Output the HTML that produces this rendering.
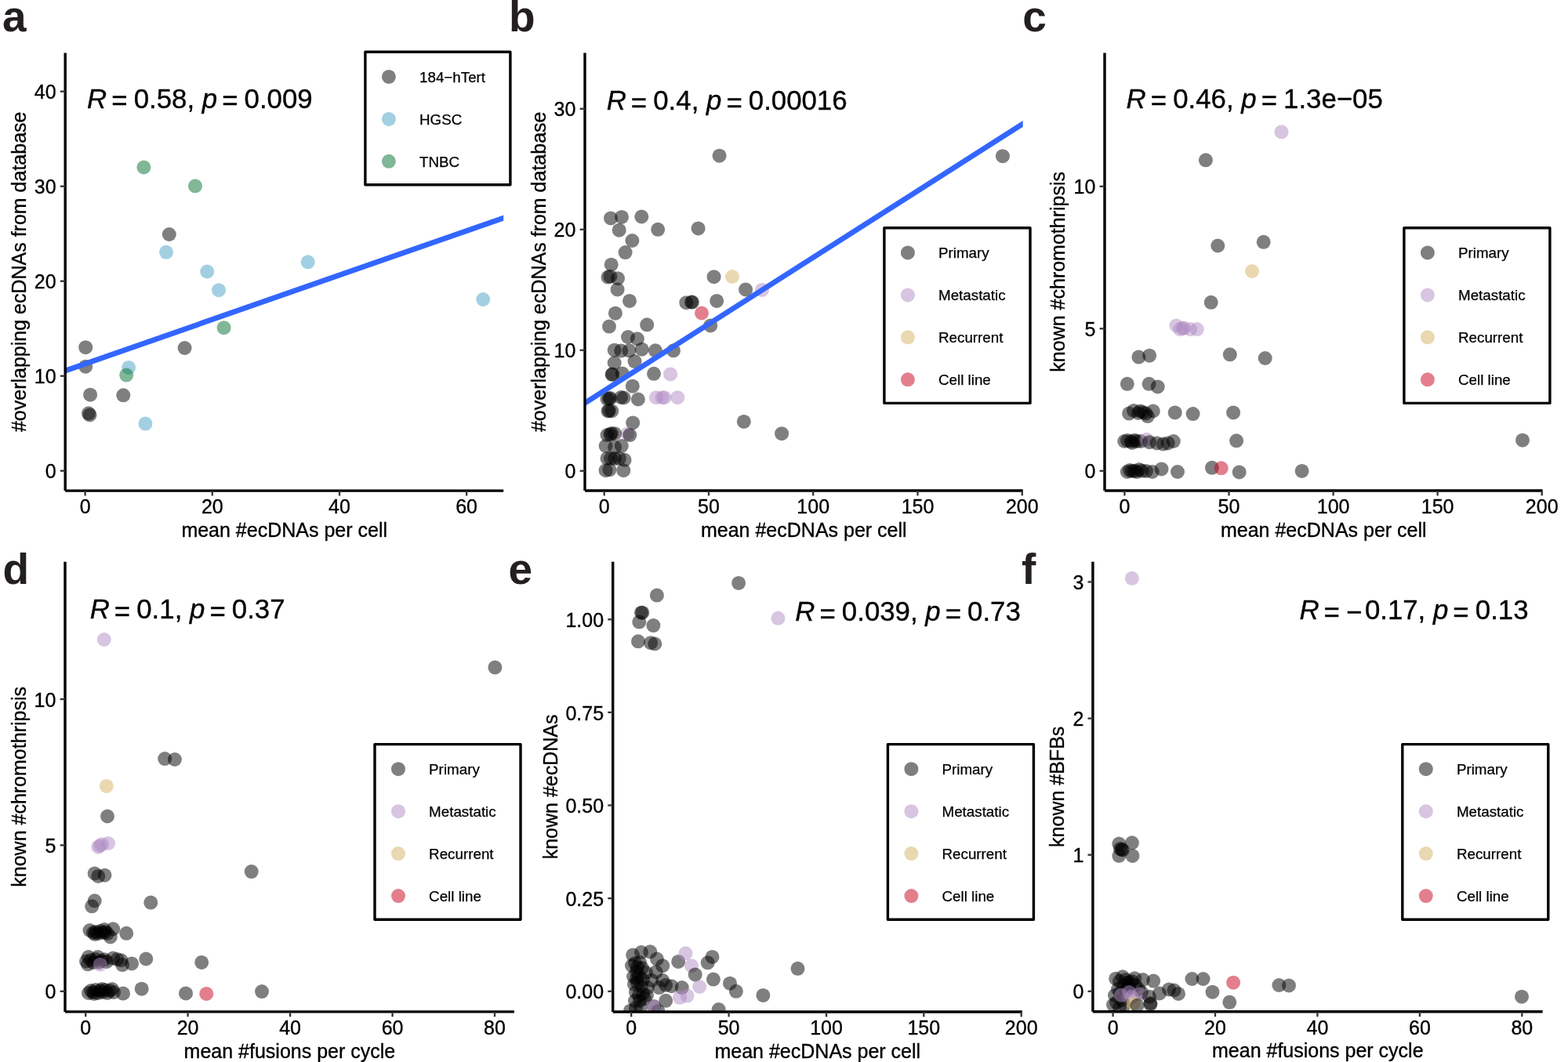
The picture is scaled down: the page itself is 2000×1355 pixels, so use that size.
<!DOCTYPE html><html><head><meta charset="utf-8"><title>figure</title><style>html,body{margin:0;padding:0;background:#fff;}svg{display:block;}</style></head><body><svg width="2000" height="1355" viewBox="0 0 2000 1355" font-family='"Liberation Sans", Arial, Helvetica, sans-serif' fill="#000">
<rect width="2000" height="1355" fill="#fff"/>
<defs>
<clipPath id="clipa"><rect x="83.2" y="67.5" width="559.0" height="558.6"/></clipPath>
<clipPath id="clipb"><rect x="746.0" y="67.5" width="558.7" height="558.5"/></clipPath>
<clipPath id="clipc"><rect x="1409.0" y="67.5" width="558.6" height="558.5"/></clipPath>
<clipPath id="clipd"><rect x="83.0" y="716.8" width="572.9" height="574.1"/></clipPath>
<clipPath id="clipe"><rect x="781.7" y="716.8" width="522.1" height="574.2"/></clipPath>
<clipPath id="clipf"><rect x="1393.9" y="716.8" width="573.7" height="574.0"/></clipPath>
</defs>
<g clip-path="url(#clipa)">
<circle cx="109.2" cy="443.2" r="9.0" fill="#000000" fill-opacity="0.5"/>
<circle cx="109.2" cy="467.7" r="9.0" fill="#000000" fill-opacity="0.5"/>
<circle cx="115.1" cy="503.7" r="9.0" fill="#000000" fill-opacity="0.5"/>
<circle cx="113.0" cy="527.3" r="9.0" fill="#000000" fill-opacity="0.5"/>
<circle cx="114.5" cy="529.4" r="9.0" fill="#000000" fill-opacity="0.5"/>
<circle cx="157.3" cy="504.3" r="9.0" fill="#000000" fill-opacity="0.5"/>
<circle cx="235.6" cy="444.0" r="9.0" fill="#000000" fill-opacity="0.5"/>
<circle cx="215.8" cy="299.0" r="9.0" fill="#000000" fill-opacity="0.5"/>
<circle cx="164.1" cy="468.9" r="9.0" fill="#479FC7" fill-opacity="0.5"/>
<circle cx="185.4" cy="540.6" r="9.0" fill="#479FC7" fill-opacity="0.5"/>
<circle cx="212.0" cy="321.8" r="9.0" fill="#479FC7" fill-opacity="0.5"/>
<circle cx="264.2" cy="346.5" r="9.0" fill="#479FC7" fill-opacity="0.5"/>
<circle cx="279.0" cy="370.2" r="9.0" fill="#479FC7" fill-opacity="0.5"/>
<circle cx="392.7" cy="334.3" r="9.0" fill="#479FC7" fill-opacity="0.5"/>
<circle cx="616.2" cy="382.0" r="9.0" fill="#479FC7" fill-opacity="0.5"/>
<circle cx="183.4" cy="213.5" r="9.0" fill="#016F2D" fill-opacity="0.5"/>
<circle cx="249.0" cy="237.3" r="9.0" fill="#016F2D" fill-opacity="0.5"/>
<circle cx="161.2" cy="478.6" r="9.0" fill="#016F2D" fill-opacity="0.5"/>
<circle cx="285.6" cy="418.2" r="9.0" fill="#016F2D" fill-opacity="0.5"/>
<line x1="70.00" y1="477.66" x2="660.00" y2="271.85" stroke="#3366FF" stroke-width="6.8"/>
</g>
<path d="M83.2 67.5 V626.1 M83.2 626.1 H642.2" fill="none" stroke="#000" stroke-width="3.4" stroke-linecap="butt"/>
<line x1="76.8" y1="600.7" x2="83.2" y2="600.7" stroke="#333" stroke-width="2.3"/>
<text x="71.6" y="610.3" font-size="25" text-anchor="end" stroke="#000" stroke-width="0.35">0</text>
<line x1="76.8" y1="479.7" x2="83.2" y2="479.7" stroke="#333" stroke-width="2.3"/>
<text x="71.6" y="489.3" font-size="25" text-anchor="end" stroke="#000" stroke-width="0.35">10</text>
<line x1="76.8" y1="358.7" x2="83.2" y2="358.7" stroke="#333" stroke-width="2.3"/>
<text x="71.6" y="368.3" font-size="25" text-anchor="end" stroke="#000" stroke-width="0.35">20</text>
<line x1="76.8" y1="237.7" x2="83.2" y2="237.7" stroke="#333" stroke-width="2.3"/>
<text x="71.6" y="247.3" font-size="25" text-anchor="end" stroke="#000" stroke-width="0.35">30</text>
<line x1="76.8" y1="116.7" x2="83.2" y2="116.7" stroke="#333" stroke-width="2.3"/>
<text x="71.6" y="126.3" font-size="25" text-anchor="end" stroke="#000" stroke-width="0.35">40</text>
<line x1="108.6" y1="626.1" x2="108.6" y2="632.5" stroke="#333" stroke-width="2.3"/>
<text x="108.6" y="655.4" font-size="25" text-anchor="middle" stroke="#000" stroke-width="0.35">0</text>
<line x1="270.8" y1="626.1" x2="270.8" y2="632.5" stroke="#333" stroke-width="2.3"/>
<text x="270.8" y="655.4" font-size="25" text-anchor="middle" stroke="#000" stroke-width="0.35">20</text>
<line x1="433.0" y1="626.1" x2="433.0" y2="632.5" stroke="#333" stroke-width="2.3"/>
<text x="433.0" y="655.4" font-size="25" text-anchor="middle" stroke="#000" stroke-width="0.35">40</text>
<line x1="595.1" y1="626.1" x2="595.1" y2="632.5" stroke="#333" stroke-width="2.3"/>
<text x="595.1" y="655.4" font-size="25" text-anchor="middle" stroke="#000" stroke-width="0.35">60</text>
<text x="362.7" y="684.7" font-size="25" text-anchor="middle" stroke="#000" stroke-width="0.35">mean #ecDNAs per cell</text>
<text transform="translate(32.8,346.8) rotate(-90)" font-size="25" text-anchor="middle" stroke="#000" stroke-width="0.35">#overlapping ecDNAs from database</text>
<text x="111.1" y="137.8" font-size="34.8" stroke="#000" stroke-width="0.35"><tspan font-style="italic">R</tspan><tspan dx="6.0" dy="2.6">=</tspan><tspan dx="8.1" dy="-2.6">0.58,</tspan><tspan dx="9.7" font-style="italic">p</tspan><tspan dx="6.0" dy="2.6">=</tspan><tspan dx="8.1" dy="-2.6">0.009</tspan></text>
<rect x="465.9" y="66.3" width="185.0" height="169.5" fill="#fff" stroke="#000" stroke-width="3.4" stroke-linejoin="round"/>
<circle cx="495.9" cy="97.9" r="9.0" fill="#000000" fill-opacity="0.5"/>
<text x="535.0" y="104.9" font-size="18.8" text-anchor="start" stroke="#000" stroke-width="0.25">184−hTert</text>
<circle cx="495.9" cy="151.9" r="9.0" fill="#479FC7" fill-opacity="0.5"/>
<text x="535.0" y="158.9" font-size="18.8" text-anchor="start" stroke="#000" stroke-width="0.25">HGSC</text>
<circle cx="495.9" cy="205.8" r="9.0" fill="#016F2D" fill-opacity="0.5"/>
<text x="535.0" y="212.8" font-size="18.8" text-anchor="start" stroke="#000" stroke-width="0.25">TNBC</text>
<g clip-path="url(#clipb)">
<circle cx="917.6" cy="198.7" r="9.0" fill="#000000" fill-opacity="0.5"/>
<circle cx="1278.9" cy="199.2" r="9.0" fill="#000000" fill-opacity="0.5"/>
<circle cx="779.0" cy="278.4" r="9.0" fill="#000000" fill-opacity="0.5"/>
<circle cx="793.0" cy="276.9" r="9.0" fill="#000000" fill-opacity="0.5"/>
<circle cx="818.3" cy="276.5" r="9.0" fill="#000000" fill-opacity="0.5"/>
<circle cx="789.7" cy="293.7" r="9.0" fill="#000000" fill-opacity="0.5"/>
<circle cx="839.2" cy="292.8" r="9.0" fill="#000000" fill-opacity="0.5"/>
<circle cx="890.6" cy="291.4" r="9.0" fill="#000000" fill-opacity="0.5"/>
<circle cx="806.4" cy="307.0" r="9.0" fill="#000000" fill-opacity="0.5"/>
<circle cx="797.6" cy="322.1" r="9.0" fill="#000000" fill-opacity="0.5"/>
<circle cx="779.7" cy="337.7" r="9.0" fill="#000000" fill-opacity="0.5"/>
<circle cx="775.5" cy="353.6" r="9.0" fill="#000000" fill-opacity="0.5"/>
<circle cx="778.4" cy="352.7" r="9.0" fill="#000000" fill-opacity="0.5"/>
<circle cx="788.0" cy="355.2" r="9.0" fill="#000000" fill-opacity="0.5"/>
<circle cx="910.6" cy="353.2" r="9.0" fill="#000000" fill-opacity="0.5"/>
<circle cx="934.0" cy="353.0" r="9.0" fill="#D3B161" fill-opacity="0.5"/>
<circle cx="951.1" cy="369.4" r="9.0" fill="#000000" fill-opacity="0.5"/>
<circle cx="787.6" cy="369.4" r="9.0" fill="#000000" fill-opacity="0.5"/>
<circle cx="972.0" cy="369.9" r="9.0" fill="#AF8BC3" fill-opacity="0.5"/>
<circle cx="803.0" cy="383.9" r="9.0" fill="#000000" fill-opacity="0.5"/>
<circle cx="875.3" cy="386.2" r="9.0" fill="#000000" fill-opacity="0.5"/>
<circle cx="882.0" cy="385.5" r="9.0" fill="#000000" fill-opacity="0.5"/>
<circle cx="883.0" cy="385.5" r="9.0" fill="#000000" fill-opacity="0.5"/>
<circle cx="914.2" cy="383.9" r="9.0" fill="#000000" fill-opacity="0.5"/>
<circle cx="895.0" cy="399.5" r="9.0" fill="#C8001A" fill-opacity="0.5"/>
<circle cx="784.9" cy="399.7" r="9.0" fill="#000000" fill-opacity="0.5"/>
<circle cx="777.0" cy="416.6" r="9.0" fill="#000000" fill-opacity="0.5"/>
<circle cx="825.2" cy="414.3" r="9.0" fill="#000000" fill-opacity="0.5"/>
<circle cx="906.2" cy="415.4" r="9.0" fill="#000000" fill-opacity="0.5"/>
<circle cx="801.0" cy="430.0" r="9.0" fill="#000000" fill-opacity="0.5"/>
<circle cx="812.9" cy="432.3" r="9.0" fill="#000000" fill-opacity="0.5"/>
<circle cx="783.7" cy="446.7" r="9.0" fill="#000000" fill-opacity="0.5"/>
<circle cx="792.2" cy="447.6" r="9.0" fill="#000000" fill-opacity="0.5"/>
<circle cx="802.4" cy="447.3" r="9.0" fill="#000000" fill-opacity="0.5"/>
<circle cx="818.7" cy="445.7" r="9.0" fill="#000000" fill-opacity="0.5"/>
<circle cx="835.9" cy="447.3" r="9.0" fill="#000000" fill-opacity="0.5"/>
<circle cx="859.0" cy="447.3" r="9.0" fill="#000000" fill-opacity="0.5"/>
<circle cx="783.7" cy="463.0" r="9.0" fill="#000000" fill-opacity="0.5"/>
<circle cx="809.5" cy="461.1" r="9.0" fill="#000000" fill-opacity="0.5"/>
<circle cx="781.3" cy="477.4" r="9.0" fill="#000000" fill-opacity="0.5"/>
<circle cx="780.5" cy="477.8" r="9.0" fill="#000000" fill-opacity="0.5"/>
<circle cx="793.7" cy="476.4" r="9.0" fill="#000000" fill-opacity="0.5"/>
<circle cx="834.0" cy="476.8" r="9.0" fill="#000000" fill-opacity="0.5"/>
<circle cx="855.1" cy="477.4" r="9.0" fill="#AF8BC3" fill-opacity="0.5"/>
<circle cx="806.8" cy="492.7" r="9.0" fill="#000000" fill-opacity="0.5"/>
<circle cx="774.5" cy="509.1" r="9.0" fill="#000000" fill-opacity="0.5"/>
<circle cx="778.4" cy="508.1" r="9.0" fill="#000000" fill-opacity="0.5"/>
<circle cx="777.0" cy="508.5" r="9.0" fill="#000000" fill-opacity="0.5"/>
<circle cx="795.6" cy="507.5" r="9.0" fill="#000000" fill-opacity="0.5"/>
<circle cx="792.0" cy="507.0" r="9.0" fill="#000000" fill-opacity="0.5"/>
<circle cx="813.9" cy="509.5" r="9.0" fill="#000000" fill-opacity="0.5"/>
<circle cx="836.9" cy="507.2" r="9.0" fill="#AF8BC3" fill-opacity="0.5"/>
<circle cx="844.6" cy="507.2" r="9.0" fill="#AF8BC3" fill-opacity="0.5"/>
<circle cx="847.5" cy="507.2" r="9.0" fill="#AF8BC3" fill-opacity="0.5"/>
<circle cx="864.3" cy="507.2" r="9.0" fill="#AF8BC3" fill-opacity="0.5"/>
<circle cx="775.5" cy="524.4" r="9.0" fill="#000000" fill-opacity="0.5"/>
<circle cx="780.3" cy="524.4" r="9.0" fill="#000000" fill-opacity="0.5"/>
<circle cx="777.0" cy="524.0" r="9.0" fill="#000000" fill-opacity="0.5"/>
<circle cx="948.8" cy="537.9" r="9.0" fill="#000000" fill-opacity="0.5"/>
<circle cx="807.2" cy="539.4" r="9.0" fill="#000000" fill-opacity="0.5"/>
<circle cx="997.1" cy="553.2" r="9.0" fill="#000000" fill-opacity="0.5"/>
<circle cx="800.5" cy="553.5" r="9.0" fill="#AF8BC3" fill-opacity="0.5"/>
<circle cx="803.3" cy="555.1" r="9.0" fill="#000000" fill-opacity="0.5"/>
<circle cx="778.4" cy="554.2" r="9.0" fill="#000000" fill-opacity="0.5"/>
<circle cx="784.1" cy="553.2" r="9.0" fill="#000000" fill-opacity="0.5"/>
<circle cx="774.5" cy="555.1" r="9.0" fill="#000000" fill-opacity="0.5"/>
<circle cx="780.0" cy="553.0" r="9.0" fill="#000000" fill-opacity="0.5"/>
<circle cx="772.6" cy="569.0" r="9.0" fill="#000000" fill-opacity="0.5"/>
<circle cx="784.1" cy="570.5" r="9.0" fill="#000000" fill-opacity="0.5"/>
<circle cx="792.8" cy="569.0" r="9.0" fill="#000000" fill-opacity="0.5"/>
<circle cx="774.5" cy="584.9" r="9.0" fill="#000000" fill-opacity="0.5"/>
<circle cx="784.1" cy="584.9" r="9.0" fill="#000000" fill-opacity="0.5"/>
<circle cx="789.9" cy="584.9" r="9.0" fill="#000000" fill-opacity="0.5"/>
<circle cx="796.6" cy="586.8" r="9.0" fill="#000000" fill-opacity="0.5"/>
<circle cx="779.0" cy="585.0" r="9.0" fill="#000000" fill-opacity="0.5"/>
<circle cx="772.6" cy="600.2" r="9.0" fill="#000000" fill-opacity="0.5"/>
<circle cx="777.4" cy="599.3" r="9.0" fill="#000000" fill-opacity="0.5"/>
<circle cx="795.3" cy="600.2" r="9.0" fill="#000000" fill-opacity="0.5"/>
<line x1="730.00" y1="524.49" x2="1320.00" y2="148.18" stroke="#3366FF" stroke-width="6.8"/>
</g>
<path d="M746.0 67.5 V626.0 M746.0 626.0 H1304.7" fill="none" stroke="#000" stroke-width="3.4" stroke-linecap="butt"/>
<line x1="739.6" y1="600.8" x2="746.0" y2="600.8" stroke="#333" stroke-width="2.3"/>
<text x="734.4" y="610.4" font-size="25" text-anchor="end" stroke="#000" stroke-width="0.35">0</text>
<line x1="739.6" y1="446.8" x2="746.0" y2="446.8" stroke="#333" stroke-width="2.3"/>
<text x="734.4" y="456.4" font-size="25" text-anchor="end" stroke="#000" stroke-width="0.35">10</text>
<line x1="739.6" y1="292.8" x2="746.0" y2="292.8" stroke="#333" stroke-width="2.3"/>
<text x="734.4" y="302.4" font-size="25" text-anchor="end" stroke="#000" stroke-width="0.35">20</text>
<line x1="739.6" y1="138.8" x2="746.0" y2="138.8" stroke="#333" stroke-width="2.3"/>
<text x="734.4" y="148.4" font-size="25" text-anchor="end" stroke="#000" stroke-width="0.35">30</text>
<line x1="770.7" y1="626.0" x2="770.7" y2="632.4" stroke="#333" stroke-width="2.3"/>
<text x="770.7" y="655.3" font-size="25" text-anchor="middle" stroke="#000" stroke-width="0.35">0</text>
<line x1="904.0" y1="626.0" x2="904.0" y2="632.4" stroke="#333" stroke-width="2.3"/>
<text x="904.0" y="655.3" font-size="25" text-anchor="middle" stroke="#000" stroke-width="0.35">50</text>
<line x1="1037.2" y1="626.0" x2="1037.2" y2="632.4" stroke="#333" stroke-width="2.3"/>
<text x="1037.2" y="655.3" font-size="25" text-anchor="middle" stroke="#000" stroke-width="0.35">100</text>
<line x1="1170.5" y1="626.0" x2="1170.5" y2="632.4" stroke="#333" stroke-width="2.3"/>
<text x="1170.5" y="655.3" font-size="25" text-anchor="middle" stroke="#000" stroke-width="0.35">150</text>
<line x1="1303.8" y1="626.0" x2="1303.8" y2="632.4" stroke="#333" stroke-width="2.3"/>
<text x="1303.8" y="655.3" font-size="25" text-anchor="middle" stroke="#000" stroke-width="0.35">200</text>
<text x="1025.3" y="684.6" font-size="25" text-anchor="middle" stroke="#000" stroke-width="0.35">mean #ecDNAs per cell</text>
<text transform="translate(696,346.8) rotate(-90)" font-size="25" text-anchor="middle" stroke="#000" stroke-width="0.35">#overlapping ecDNAs from database</text>
<text x="773.7" y="140.0" font-size="34.8" stroke="#000" stroke-width="0.35"><tspan font-style="italic">R</tspan><tspan dx="6.0" dy="2.6">=</tspan><tspan dx="8.1" dy="-2.6">0.4,</tspan><tspan dx="9.7" font-style="italic">p</tspan><tspan dx="6.0" dy="2.6">=</tspan><tspan dx="8.1" dy="-2.6">0.00016</tspan></text>
<rect x="1127.9" y="290.8" width="186.1" height="223.6" fill="#fff" stroke="#000" stroke-width="3.4" stroke-linejoin="round"/>
<circle cx="1157.9" cy="322.4" r="9.0" fill="#000000" fill-opacity="0.5"/>
<text x="1197.0" y="329.4" font-size="18.8" text-anchor="start" stroke="#000" stroke-width="0.25">Primary</text>
<circle cx="1157.9" cy="376.4" r="9.0" fill="#AF8BC3" fill-opacity="0.5"/>
<text x="1197.0" y="383.4" font-size="18.8" text-anchor="start" stroke="#000" stroke-width="0.25">Metastatic</text>
<circle cx="1157.9" cy="430.3" r="9.0" fill="#D3B161" fill-opacity="0.5"/>
<text x="1197.0" y="437.3" font-size="18.8" text-anchor="start" stroke="#000" stroke-width="0.25">Recurrent</text>
<circle cx="1157.9" cy="484.3" r="9.0" fill="#C8001A" fill-opacity="0.5"/>
<text x="1197.0" y="491.3" font-size="18.8" text-anchor="start" stroke="#000" stroke-width="0.25">Cell line</text>
<g clip-path="url(#clipc)">
<circle cx="1634.5" cy="168.3" r="9.0" fill="#AF8BC3" fill-opacity="0.5"/>
<circle cx="1537.9" cy="204.3" r="9.0" fill="#000000" fill-opacity="0.5"/>
<circle cx="1553.3" cy="313.5" r="9.0" fill="#000000" fill-opacity="0.5"/>
<circle cx="1611.7" cy="308.8" r="9.0" fill="#000000" fill-opacity="0.5"/>
<circle cx="1597.0" cy="346.0" r="9.0" fill="#D3B161" fill-opacity="0.5"/>
<circle cx="1544.7" cy="385.8" r="9.0" fill="#000000" fill-opacity="0.5"/>
<circle cx="1500.4" cy="415.4" r="9.0" fill="#AF8BC3" fill-opacity="0.5"/>
<circle cx="1508.6" cy="419.0" r="9.0" fill="#AF8BC3" fill-opacity="0.5"/>
<circle cx="1518.1" cy="420.1" r="9.0" fill="#AF8BC3" fill-opacity="0.5"/>
<circle cx="1526.8" cy="420.1" r="9.0" fill="#AF8BC3" fill-opacity="0.5"/>
<circle cx="1505.1" cy="420.1" r="9.0" fill="#AF8BC3" fill-opacity="0.5"/>
<circle cx="1510.0" cy="418.5" r="9.0" fill="#AF8BC3" fill-opacity="0.5"/>
<circle cx="1452.4" cy="455.6" r="9.0" fill="#000000" fill-opacity="0.5"/>
<circle cx="1466.1" cy="453.7" r="9.0" fill="#000000" fill-opacity="0.5"/>
<circle cx="1568.8" cy="452.3" r="9.0" fill="#000000" fill-opacity="0.5"/>
<circle cx="1613.7" cy="457.0" r="9.0" fill="#000000" fill-opacity="0.5"/>
<circle cx="1437.8" cy="489.8" r="9.0" fill="#000000" fill-opacity="0.5"/>
<circle cx="1465.6" cy="489.8" r="9.0" fill="#000000" fill-opacity="0.5"/>
<circle cx="1476.7" cy="493.4" r="9.0" fill="#000000" fill-opacity="0.5"/>
<circle cx="1440.1" cy="527.6" r="9.0" fill="#000000" fill-opacity="0.5"/>
<circle cx="1446.0" cy="524.0" r="9.0" fill="#000000" fill-opacity="0.5"/>
<circle cx="1454.3" cy="524.5" r="9.0" fill="#000000" fill-opacity="0.5"/>
<circle cx="1458.0" cy="526.0" r="9.0" fill="#000000" fill-opacity="0.5"/>
<circle cx="1452.0" cy="527.0" r="9.0" fill="#000000" fill-opacity="0.5"/>
<circle cx="1461.4" cy="527.6" r="9.0" fill="#000000" fill-opacity="0.5"/>
<circle cx="1463.8" cy="531.1" r="9.0" fill="#000000" fill-opacity="0.5"/>
<circle cx="1470.8" cy="524.5" r="9.0" fill="#000000" fill-opacity="0.5"/>
<circle cx="1498.7" cy="526.4" r="9.0" fill="#000000" fill-opacity="0.5"/>
<circle cx="1521.6" cy="528.1" r="9.0" fill="#000000" fill-opacity="0.5"/>
<circle cx="1573.1" cy="526.4" r="9.0" fill="#000000" fill-opacity="0.5"/>
<circle cx="1434.2" cy="563.0" r="9.0" fill="#000000" fill-opacity="0.5"/>
<circle cx="1442.5" cy="563.0" r="9.0" fill="#000000" fill-opacity="0.5"/>
<circle cx="1447.2" cy="561.8" r="9.0" fill="#000000" fill-opacity="0.5"/>
<circle cx="1438.0" cy="562.0" r="9.0" fill="#000000" fill-opacity="0.5"/>
<circle cx="1444.0" cy="565.0" r="9.0" fill="#000000" fill-opacity="0.5"/>
<circle cx="1450.0" cy="563.0" r="9.0" fill="#000000" fill-opacity="0.5"/>
<circle cx="1455.0" cy="563.0" r="9.0" fill="#000000" fill-opacity="0.5"/>
<circle cx="1462.6" cy="560.7" r="9.0" fill="#AF8BC3" fill-opacity="0.5"/>
<circle cx="1466.1" cy="564.2" r="9.0" fill="#000000" fill-opacity="0.5"/>
<circle cx="1475.6" cy="565.4" r="9.0" fill="#000000" fill-opacity="0.5"/>
<circle cx="1483.8" cy="566.6" r="9.0" fill="#000000" fill-opacity="0.5"/>
<circle cx="1489.7" cy="565.4" r="9.0" fill="#000000" fill-opacity="0.5"/>
<circle cx="1496.8" cy="563.0" r="9.0" fill="#000000" fill-opacity="0.5"/>
<circle cx="1577.1" cy="562.3" r="9.0" fill="#000000" fill-opacity="0.5"/>
<circle cx="1942.0" cy="561.7" r="9.0" fill="#000000" fill-opacity="0.5"/>
<circle cx="1437.8" cy="602.0" r="9.0" fill="#000000" fill-opacity="0.5"/>
<circle cx="1441.0" cy="600.0" r="9.0" fill="#000000" fill-opacity="0.5"/>
<circle cx="1444.0" cy="601.0" r="9.0" fill="#000000" fill-opacity="0.5"/>
<circle cx="1447.2" cy="600.8" r="9.0" fill="#000000" fill-opacity="0.5"/>
<circle cx="1450.0" cy="602.0" r="9.0" fill="#000000" fill-opacity="0.5"/>
<circle cx="1453.0" cy="599.0" r="9.0" fill="#000000" fill-opacity="0.5"/>
<circle cx="1456.7" cy="600.8" r="9.0" fill="#000000" fill-opacity="0.5"/>
<circle cx="1462.0" cy="601.0" r="9.0" fill="#000000" fill-opacity="0.5"/>
<circle cx="1469.7" cy="602.0" r="9.0" fill="#000000" fill-opacity="0.5"/>
<circle cx="1481.5" cy="598.4" r="9.0" fill="#000000" fill-opacity="0.5"/>
<circle cx="1502.0" cy="602.0" r="9.0" fill="#000000" fill-opacity="0.5"/>
<circle cx="1545.9" cy="596.8" r="9.0" fill="#000000" fill-opacity="0.5"/>
<circle cx="1557.7" cy="597.3" r="9.0" fill="#C8001A" fill-opacity="0.5"/>
<circle cx="1580.7" cy="602.4" r="9.0" fill="#000000" fill-opacity="0.5"/>
<circle cx="1660.6" cy="600.9" r="9.0" fill="#000000" fill-opacity="0.5"/>
</g>
<path d="M1409.0 67.5 V626.0 M1409.0 626.0 H1967.6" fill="none" stroke="#000" stroke-width="3.4" stroke-linecap="butt"/>
<line x1="1402.6" y1="600.8" x2="1409.0" y2="600.8" stroke="#333" stroke-width="2.3"/>
<text x="1397.4" y="610.4" font-size="25" text-anchor="end" stroke="#000" stroke-width="0.35">0</text>
<line x1="1402.6" y1="419.3" x2="1409.0" y2="419.3" stroke="#333" stroke-width="2.3"/>
<text x="1397.4" y="428.9" font-size="25" text-anchor="end" stroke="#000" stroke-width="0.35">5</text>
<line x1="1402.6" y1="237.8" x2="1409.0" y2="237.8" stroke="#333" stroke-width="2.3"/>
<text x="1397.4" y="247.4" font-size="25" text-anchor="end" stroke="#000" stroke-width="0.35">10</text>
<line x1="1434.4" y1="626.0" x2="1434.4" y2="632.4" stroke="#333" stroke-width="2.3"/>
<text x="1434.4" y="655.3" font-size="25" text-anchor="middle" stroke="#000" stroke-width="0.35">0</text>
<line x1="1567.5" y1="626.0" x2="1567.5" y2="632.4" stroke="#333" stroke-width="2.3"/>
<text x="1567.5" y="655.3" font-size="25" text-anchor="middle" stroke="#000" stroke-width="0.35">50</text>
<line x1="1700.6" y1="626.0" x2="1700.6" y2="632.4" stroke="#333" stroke-width="2.3"/>
<text x="1700.6" y="655.3" font-size="25" text-anchor="middle" stroke="#000" stroke-width="0.35">100</text>
<line x1="1833.6" y1="626.0" x2="1833.6" y2="632.4" stroke="#333" stroke-width="2.3"/>
<text x="1833.6" y="655.3" font-size="25" text-anchor="middle" stroke="#000" stroke-width="0.35">150</text>
<line x1="1966.7" y1="626.0" x2="1966.7" y2="632.4" stroke="#333" stroke-width="2.3"/>
<text x="1966.7" y="655.3" font-size="25" text-anchor="middle" stroke="#000" stroke-width="0.35">200</text>
<text x="1688.3" y="684.6" font-size="25" text-anchor="middle" stroke="#000" stroke-width="0.35">mean #ecDNAs per cell</text>
<text transform="translate(1358.2,346.8) rotate(-90)" font-size="25" text-anchor="middle" stroke="#000" stroke-width="0.35">known #chromothripsis</text>
<text x="1436.6" y="137.7" font-size="34.8" stroke="#000" stroke-width="0.35"><tspan font-style="italic">R</tspan><tspan dx="6.0" dy="2.6">=</tspan><tspan dx="8.1" dy="-2.6">0.46,</tspan><tspan dx="9.7" font-style="italic">p</tspan><tspan dx="6.0" dy="2.6">=</tspan><tspan dx="8.1" dy="-2.6">1.3e−05</tspan></text>
<rect x="1790.9" y="290.8" width="186.0" height="223.6" fill="#fff" stroke="#000" stroke-width="3.4" stroke-linejoin="round"/>
<circle cx="1820.9" cy="322.4" r="9.0" fill="#000000" fill-opacity="0.5"/>
<text x="1860.0" y="329.4" font-size="18.8" text-anchor="start" stroke="#000" stroke-width="0.25">Primary</text>
<circle cx="1820.9" cy="376.4" r="9.0" fill="#AF8BC3" fill-opacity="0.5"/>
<text x="1860.0" y="383.4" font-size="18.8" text-anchor="start" stroke="#000" stroke-width="0.25">Metastatic</text>
<circle cx="1820.9" cy="430.3" r="9.0" fill="#D3B161" fill-opacity="0.5"/>
<text x="1860.0" y="437.3" font-size="18.8" text-anchor="start" stroke="#000" stroke-width="0.25">Recurrent</text>
<circle cx="1820.9" cy="484.3" r="9.0" fill="#C8001A" fill-opacity="0.5"/>
<text x="1860.0" y="491.3" font-size="18.8" text-anchor="start" stroke="#000" stroke-width="0.25">Cell line</text>
<g clip-path="url(#clipd)">
<circle cx="132.8" cy="816.0" r="9.0" fill="#AF8BC3" fill-opacity="0.5"/>
<circle cx="631.4" cy="851.6" r="9.0" fill="#000000" fill-opacity="0.5"/>
<circle cx="210.2" cy="968.1" r="9.0" fill="#000000" fill-opacity="0.5"/>
<circle cx="222.9" cy="969.0" r="9.0" fill="#000000" fill-opacity="0.5"/>
<circle cx="135.8" cy="1002.9" r="9.0" fill="#D3B161" fill-opacity="0.5"/>
<circle cx="137.0" cy="1041.5" r="9.0" fill="#000000" fill-opacity="0.5"/>
<circle cx="125.3" cy="1080.7" r="9.0" fill="#AF8BC3" fill-opacity="0.5"/>
<circle cx="127.5" cy="1079.0" r="9.0" fill="#AF8BC3" fill-opacity="0.5"/>
<circle cx="130.0" cy="1077.2" r="9.0" fill="#AF8BC3" fill-opacity="0.5"/>
<circle cx="138.1" cy="1076.0" r="9.0" fill="#AF8BC3" fill-opacity="0.5"/>
<circle cx="120.7" cy="1114.4" r="9.0" fill="#000000" fill-opacity="0.5"/>
<circle cx="125.3" cy="1117.9" r="9.0" fill="#000000" fill-opacity="0.5"/>
<circle cx="133.5" cy="1116.7" r="9.0" fill="#000000" fill-opacity="0.5"/>
<circle cx="320.7" cy="1112.1" r="9.0" fill="#000000" fill-opacity="0.5"/>
<circle cx="120.7" cy="1149.3" r="9.0" fill="#000000" fill-opacity="0.5"/>
<circle cx="117.2" cy="1156.3" r="9.0" fill="#000000" fill-opacity="0.5"/>
<circle cx="192.3" cy="1151.6" r="9.0" fill="#000000" fill-opacity="0.5"/>
<circle cx="114.5" cy="1187.0" r="9.0" fill="#000000" fill-opacity="0.5"/>
<circle cx="119.0" cy="1190.0" r="9.0" fill="#000000" fill-opacity="0.5"/>
<circle cx="122.0" cy="1189.0" r="9.0" fill="#000000" fill-opacity="0.5"/>
<circle cx="125.0" cy="1191.0" r="9.0" fill="#000000" fill-opacity="0.5"/>
<circle cx="128.0" cy="1188.0" r="9.0" fill="#000000" fill-opacity="0.5"/>
<circle cx="131.0" cy="1190.0" r="9.0" fill="#000000" fill-opacity="0.5"/>
<circle cx="134.0" cy="1189.0" r="9.0" fill="#000000" fill-opacity="0.5"/>
<circle cx="137.0" cy="1191.0" r="9.0" fill="#000000" fill-opacity="0.5"/>
<circle cx="140.8" cy="1195.5" r="9.0" fill="#000000" fill-opacity="0.5"/>
<circle cx="144.2" cy="1185.3" r="9.0" fill="#000000" fill-opacity="0.5"/>
<circle cx="161.2" cy="1190.8" r="9.0" fill="#000000" fill-opacity="0.5"/>
<circle cx="121.0" cy="1192.0" r="9.0" fill="#000000" fill-opacity="0.5"/>
<circle cx="133.0" cy="1186.0" r="9.0" fill="#000000" fill-opacity="0.5"/>
<circle cx="110.0" cy="1226.5" r="9.0" fill="#000000" fill-opacity="0.5"/>
<circle cx="112.8" cy="1221.0" r="9.0" fill="#000000" fill-opacity="0.5"/>
<circle cx="112.0" cy="1230.3" r="9.0" fill="#000000" fill-opacity="0.5"/>
<circle cx="116.0" cy="1225.0" r="9.0" fill="#000000" fill-opacity="0.5"/>
<circle cx="119.0" cy="1228.0" r="9.0" fill="#000000" fill-opacity="0.5"/>
<circle cx="122.0" cy="1224.0" r="9.0" fill="#000000" fill-opacity="0.5"/>
<circle cx="124.7" cy="1221.0" r="9.0" fill="#000000" fill-opacity="0.5"/>
<circle cx="126.0" cy="1228.0" r="9.0" fill="#000000" fill-opacity="0.5"/>
<circle cx="130.0" cy="1226.0" r="9.0" fill="#000000" fill-opacity="0.5"/>
<circle cx="133.2" cy="1224.3" r="9.0" fill="#000000" fill-opacity="0.5"/>
<circle cx="136.0" cy="1227.0" r="9.0" fill="#000000" fill-opacity="0.5"/>
<circle cx="127.7" cy="1230.7" r="9.0" fill="#AF8BC3" fill-opacity="0.5"/>
<circle cx="144.2" cy="1222.6" r="9.0" fill="#000000" fill-opacity="0.5"/>
<circle cx="149.5" cy="1224.0" r="9.0" fill="#000000" fill-opacity="0.5"/>
<circle cx="154.4" cy="1225.2" r="9.0" fill="#000000" fill-opacity="0.5"/>
<circle cx="156.1" cy="1231.1" r="9.0" fill="#000000" fill-opacity="0.5"/>
<circle cx="168.0" cy="1229.4" r="9.0" fill="#000000" fill-opacity="0.5"/>
<circle cx="186.3" cy="1223.5" r="9.0" fill="#000000" fill-opacity="0.5"/>
<circle cx="257.2" cy="1227.9" r="9.0" fill="#000000" fill-opacity="0.5"/>
<circle cx="113.0" cy="1267.0" r="9.0" fill="#000000" fill-opacity="0.5"/>
<circle cx="116.0" cy="1264.0" r="9.0" fill="#000000" fill-opacity="0.5"/>
<circle cx="119.0" cy="1266.0" r="9.0" fill="#000000" fill-opacity="0.5"/>
<circle cx="122.0" cy="1263.0" r="9.0" fill="#000000" fill-opacity="0.5"/>
<circle cx="125.0" cy="1267.0" r="9.0" fill="#000000" fill-opacity="0.5"/>
<circle cx="128.0" cy="1264.0" r="9.0" fill="#000000" fill-opacity="0.5"/>
<circle cx="131.0" cy="1266.0" r="9.0" fill="#000000" fill-opacity="0.5"/>
<circle cx="134.0" cy="1263.0" r="9.0" fill="#000000" fill-opacity="0.5"/>
<circle cx="137.0" cy="1267.0" r="9.0" fill="#000000" fill-opacity="0.5"/>
<circle cx="140.0" cy="1264.0" r="9.0" fill="#000000" fill-opacity="0.5"/>
<circle cx="143.0" cy="1262.0" r="9.0" fill="#000000" fill-opacity="0.5"/>
<circle cx="145.0" cy="1266.0" r="9.0" fill="#000000" fill-opacity="0.5"/>
<circle cx="120.0" cy="1268.0" r="9.0" fill="#000000" fill-opacity="0.5"/>
<circle cx="130.0" cy="1262.0" r="9.0" fill="#000000" fill-opacity="0.5"/>
<circle cx="157.0" cy="1267.6" r="9.0" fill="#000000" fill-opacity="0.5"/>
<circle cx="180.7" cy="1261.7" r="9.0" fill="#000000" fill-opacity="0.5"/>
<circle cx="237.0" cy="1267.4" r="9.0" fill="#000000" fill-opacity="0.5"/>
<circle cx="263.3" cy="1267.9" r="9.0" fill="#C8001A" fill-opacity="0.5"/>
<circle cx="334.0" cy="1265.1" r="9.0" fill="#000000" fill-opacity="0.5"/>
</g>
<path d="M83.0 716.8 V1290.9 M83.0 1290.9 H655.9" fill="none" stroke="#000" stroke-width="3.4" stroke-linecap="butt"/>
<line x1="76.6" y1="1264.8" x2="83.0" y2="1264.8" stroke="#333" stroke-width="2.3"/>
<text x="71.4" y="1274.4" font-size="25" text-anchor="end" stroke="#000" stroke-width="0.35">0</text>
<line x1="76.6" y1="1078.4" x2="83.0" y2="1078.4" stroke="#333" stroke-width="2.3"/>
<text x="71.4" y="1088.0" font-size="25" text-anchor="end" stroke="#000" stroke-width="0.35">5</text>
<line x1="76.6" y1="892.1" x2="83.0" y2="892.1" stroke="#333" stroke-width="2.3"/>
<text x="71.4" y="901.7" font-size="25" text-anchor="end" stroke="#000" stroke-width="0.35">10</text>
<line x1="109.2" y1="1290.9" x2="109.2" y2="1297.3" stroke="#333" stroke-width="2.3"/>
<text x="109.2" y="1320.2" font-size="25" text-anchor="middle" stroke="#000" stroke-width="0.35">0</text>
<line x1="239.6" y1="1290.9" x2="239.6" y2="1297.3" stroke="#333" stroke-width="2.3"/>
<text x="239.6" y="1320.2" font-size="25" text-anchor="middle" stroke="#000" stroke-width="0.35">20</text>
<line x1="370.1" y1="1290.9" x2="370.1" y2="1297.3" stroke="#333" stroke-width="2.3"/>
<text x="370.1" y="1320.2" font-size="25" text-anchor="middle" stroke="#000" stroke-width="0.35">40</text>
<line x1="500.6" y1="1290.9" x2="500.6" y2="1297.3" stroke="#333" stroke-width="2.3"/>
<text x="500.6" y="1320.2" font-size="25" text-anchor="middle" stroke="#000" stroke-width="0.35">60</text>
<line x1="631.0" y1="1290.9" x2="631.0" y2="1297.3" stroke="#333" stroke-width="2.3"/>
<text x="631.0" y="1320.2" font-size="25" text-anchor="middle" stroke="#000" stroke-width="0.35">80</text>
<text x="369.4" y="1349.5" font-size="25" text-anchor="middle" stroke="#000" stroke-width="0.35">mean #fusions per cycle</text>
<text transform="translate(33.0,1003.9) rotate(-90)" font-size="25" text-anchor="middle" stroke="#000" stroke-width="0.35">known #chromothripsis</text>
<text x="114.7" y="789.0" font-size="34.8" stroke="#000" stroke-width="0.35"><tspan font-style="italic">R</tspan><tspan dx="6.0" dy="2.6">=</tspan><tspan dx="8.1" dy="-2.6">0.1,</tspan><tspan dx="9.7" font-style="italic">p</tspan><tspan dx="6.0" dy="2.6">=</tspan><tspan dx="8.1" dy="-2.6">0.37</tspan></text>
<rect x="478.0" y="949.6" width="186.0" height="223.6" fill="#fff" stroke="#000" stroke-width="3.4" stroke-linejoin="round"/>
<circle cx="508.0" cy="981.2" r="9.0" fill="#000000" fill-opacity="0.5"/>
<text x="547.1" y="988.2" font-size="18.8" text-anchor="start" stroke="#000" stroke-width="0.25">Primary</text>
<circle cx="508.0" cy="1035.2" r="9.0" fill="#AF8BC3" fill-opacity="0.5"/>
<text x="547.1" y="1042.2" font-size="18.8" text-anchor="start" stroke="#000" stroke-width="0.25">Metastatic</text>
<circle cx="508.0" cy="1089.1" r="9.0" fill="#D3B161" fill-opacity="0.5"/>
<text x="547.1" y="1096.1" font-size="18.8" text-anchor="start" stroke="#000" stroke-width="0.25">Recurrent</text>
<circle cx="508.0" cy="1143.1" r="9.0" fill="#C8001A" fill-opacity="0.5"/>
<text x="547.1" y="1150.1" font-size="18.8" text-anchor="start" stroke="#000" stroke-width="0.25">Cell line</text>
<g clip-path="url(#clipe)">
<circle cx="942.1" cy="743.9" r="9.0" fill="#000000" fill-opacity="0.5"/>
<circle cx="837.9" cy="759.6" r="9.0" fill="#000000" fill-opacity="0.5"/>
<circle cx="818.0" cy="781.7" r="9.0" fill="#000000" fill-opacity="0.5"/>
<circle cx="819.3" cy="781.7" r="9.0" fill="#000000" fill-opacity="0.5"/>
<circle cx="815.3" cy="793.6" r="9.0" fill="#000000" fill-opacity="0.5"/>
<circle cx="833.4" cy="798.1" r="9.0" fill="#000000" fill-opacity="0.5"/>
<circle cx="814.0" cy="818.3" r="9.0" fill="#000000" fill-opacity="0.5"/>
<circle cx="830.0" cy="820.2" r="9.0" fill="#000000" fill-opacity="0.5"/>
<circle cx="835.3" cy="821.5" r="9.0" fill="#000000" fill-opacity="0.5"/>
<circle cx="992.5" cy="788.8" r="9.0" fill="#AF8BC3" fill-opacity="0.5"/>
<circle cx="807.2" cy="1218.6" r="9.0" fill="#000000" fill-opacity="0.5"/>
<circle cx="818.0" cy="1215.1" r="9.0" fill="#000000" fill-opacity="0.5"/>
<circle cx="829.3" cy="1214.3" r="9.0" fill="#000000" fill-opacity="0.5"/>
<circle cx="837.9" cy="1223.6" r="9.0" fill="#000000" fill-opacity="0.5"/>
<circle cx="845.2" cy="1232.2" r="9.0" fill="#000000" fill-opacity="0.5"/>
<circle cx="836.6" cy="1240.2" r="9.0" fill="#000000" fill-opacity="0.5"/>
<circle cx="865.2" cy="1226.9" r="9.0" fill="#000000" fill-opacity="0.5"/>
<circle cx="806.0" cy="1232.0" r="9.0" fill="#000000" fill-opacity="0.5"/>
<circle cx="810.0" cy="1229.0" r="9.0" fill="#000000" fill-opacity="0.5"/>
<circle cx="813.0" cy="1234.0" r="9.0" fill="#000000" fill-opacity="0.5"/>
<circle cx="816.0" cy="1228.0" r="9.0" fill="#000000" fill-opacity="0.5"/>
<circle cx="819.0" cy="1235.0" r="9.0" fill="#000000" fill-opacity="0.5"/>
<circle cx="812.0" cy="1240.0" r="9.0" fill="#000000" fill-opacity="0.5"/>
<circle cx="808.0" cy="1246.0" r="9.0" fill="#000000" fill-opacity="0.5"/>
<circle cx="812.0" cy="1249.0" r="9.0" fill="#000000" fill-opacity="0.5"/>
<circle cx="815.0" cy="1245.0" r="9.0" fill="#000000" fill-opacity="0.5"/>
<circle cx="820.0" cy="1250.0" r="9.0" fill="#000000" fill-opacity="0.5"/>
<circle cx="809.0" cy="1256.0" r="9.0" fill="#000000" fill-opacity="0.5"/>
<circle cx="813.0" cy="1254.0" r="9.0" fill="#000000" fill-opacity="0.5"/>
<circle cx="818.0" cy="1258.0" r="9.0" fill="#000000" fill-opacity="0.5"/>
<circle cx="811.0" cy="1266.0" r="9.0" fill="#000000" fill-opacity="0.5"/>
<circle cx="815.0" cy="1270.0" r="9.0" fill="#000000" fill-opacity="0.5"/>
<circle cx="820.0" cy="1268.0" r="9.0" fill="#000000" fill-opacity="0.5"/>
<circle cx="825.0" cy="1270.0" r="9.0" fill="#000000" fill-opacity="0.5"/>
<circle cx="810.0" cy="1277.0" r="9.0" fill="#000000" fill-opacity="0.5"/>
<circle cx="816.0" cy="1277.0" r="9.0" fill="#000000" fill-opacity="0.5"/>
<circle cx="822.0" cy="1274.0" r="9.0" fill="#000000" fill-opacity="0.5"/>
<circle cx="811.0" cy="1286.0" r="9.0" fill="#000000" fill-opacity="0.5"/>
<circle cx="817.0" cy="1285.0" r="9.0" fill="#000000" fill-opacity="0.5"/>
<circle cx="804.0" cy="1289.7" r="9.0" fill="#000000" fill-opacity="0.5"/>
<circle cx="824.0" cy="1241.0" r="9.0" fill="#000000" fill-opacity="0.5"/>
<circle cx="826.0" cy="1260.0" r="9.0" fill="#000000" fill-opacity="0.5"/>
<circle cx="831.3" cy="1250.8" r="9.0" fill="#000000" fill-opacity="0.5"/>
<circle cx="845.2" cy="1250.8" r="9.0" fill="#000000" fill-opacity="0.5"/>
<circle cx="849.2" cy="1256.8" r="9.0" fill="#000000" fill-opacity="0.5"/>
<circle cx="840.6" cy="1260.1" r="9.0" fill="#000000" fill-opacity="0.5"/>
<circle cx="856.5" cy="1258.2" r="9.0" fill="#000000" fill-opacity="0.5"/>
<circle cx="869.8" cy="1260.1" r="9.0" fill="#000000" fill-opacity="0.5"/>
<circle cx="849.2" cy="1276.8" r="9.0" fill="#000000" fill-opacity="0.5"/>
<circle cx="834.0" cy="1284.0" r="9.0" fill="#000000" fill-opacity="0.5"/>
<circle cx="839.3" cy="1290.0" r="9.0" fill="#000000" fill-opacity="0.5"/>
<circle cx="833.3" cy="1284.7" r="9.0" fill="#AF8BC3" fill-opacity="0.5"/>
<circle cx="874.5" cy="1216.3" r="9.0" fill="#AF8BC3" fill-opacity="0.5"/>
<circle cx="882.0" cy="1232.2" r="9.0" fill="#AF8BC3" fill-opacity="0.5"/>
<circle cx="908.5" cy="1220.9" r="9.0" fill="#000000" fill-opacity="0.5"/>
<circle cx="902.7" cy="1228.3" r="9.0" fill="#000000" fill-opacity="0.5"/>
<circle cx="886.7" cy="1243.4" r="9.0" fill="#000000" fill-opacity="0.5"/>
<circle cx="909.9" cy="1249.6" r="9.0" fill="#000000" fill-opacity="0.5"/>
<circle cx="931.0" cy="1254.7" r="9.0" fill="#000000" fill-opacity="0.5"/>
<circle cx="938.9" cy="1264.8" r="9.0" fill="#000000" fill-opacity="0.5"/>
<circle cx="973.4" cy="1269.9" r="9.0" fill="#000000" fill-opacity="0.5"/>
<circle cx="1017.5" cy="1235.8" r="9.0" fill="#000000" fill-opacity="0.5"/>
<circle cx="916.7" cy="1288.0" r="9.0" fill="#000000" fill-opacity="0.5"/>
<circle cx="892.2" cy="1259.0" r="9.0" fill="#AF8BC3" fill-opacity="0.5"/>
<circle cx="876.6" cy="1270.6" r="9.0" fill="#AF8BC3" fill-opacity="0.5"/>
<circle cx="867.1" cy="1272.8" r="9.0" fill="#AF8BC3" fill-opacity="0.5"/>
</g>
<path d="M781.7 716.8 V1291.0 M781.7 1291.0 H1303.8" fill="none" stroke="#000" stroke-width="3.4" stroke-linecap="butt"/>
<line x1="775.3" y1="1264.8" x2="781.7" y2="1264.8" stroke="#333" stroke-width="2.3"/>
<text x="770.1" y="1274.4" font-size="25" text-anchor="end" stroke="#000" stroke-width="0.35">0.00</text>
<line x1="775.3" y1="1146.2" x2="781.7" y2="1146.2" stroke="#333" stroke-width="2.3"/>
<text x="770.1" y="1155.8" font-size="25" text-anchor="end" stroke="#000" stroke-width="0.35">0.25</text>
<line x1="775.3" y1="1027.5" x2="781.7" y2="1027.5" stroke="#333" stroke-width="2.3"/>
<text x="770.1" y="1037.1" font-size="25" text-anchor="end" stroke="#000" stroke-width="0.35">0.50</text>
<line x1="775.3" y1="908.9" x2="781.7" y2="908.9" stroke="#333" stroke-width="2.3"/>
<text x="770.1" y="918.5" font-size="25" text-anchor="end" stroke="#000" stroke-width="0.35">0.75</text>
<line x1="775.3" y1="790.3" x2="781.7" y2="790.3" stroke="#333" stroke-width="2.3"/>
<text x="770.1" y="799.9" font-size="25" text-anchor="end" stroke="#000" stroke-width="0.35">1.00</text>
<line x1="805.2" y1="1291.0" x2="805.2" y2="1297.4" stroke="#333" stroke-width="2.3"/>
<text x="805.2" y="1320.3" font-size="25" text-anchor="middle" stroke="#000" stroke-width="0.35">0</text>
<line x1="929.6" y1="1291.0" x2="929.6" y2="1297.4" stroke="#333" stroke-width="2.3"/>
<text x="929.6" y="1320.3" font-size="25" text-anchor="middle" stroke="#000" stroke-width="0.35">50</text>
<line x1="1054.0" y1="1291.0" x2="1054.0" y2="1297.4" stroke="#333" stroke-width="2.3"/>
<text x="1054.0" y="1320.3" font-size="25" text-anchor="middle" stroke="#000" stroke-width="0.35">100</text>
<line x1="1178.3" y1="1291.0" x2="1178.3" y2="1297.4" stroke="#333" stroke-width="2.3"/>
<text x="1178.3" y="1320.3" font-size="25" text-anchor="middle" stroke="#000" stroke-width="0.35">150</text>
<line x1="1302.7" y1="1291.0" x2="1302.7" y2="1297.4" stroke="#333" stroke-width="2.3"/>
<text x="1302.7" y="1320.3" font-size="25" text-anchor="middle" stroke="#000" stroke-width="0.35">200</text>
<text x="1042.8" y="1349.6" font-size="25" text-anchor="middle" stroke="#000" stroke-width="0.35">mean #ecDNAs per cell</text>
<text transform="translate(710.7,1003.9) rotate(-90)" font-size="25" text-anchor="middle" stroke="#000" stroke-width="0.35">known #ecDNAs</text>
<text x="1014.3" y="791.9" font-size="34.8" stroke="#000" stroke-width="0.35"><tspan font-style="italic">R</tspan><tspan dx="6.0" dy="2.6">=</tspan><tspan dx="8.1" dy="-2.6">0.039,</tspan><tspan dx="9.7" font-style="italic">p</tspan><tspan dx="6.0" dy="2.6">=</tspan><tspan dx="8.1" dy="-2.6">0.73</tspan></text>
<rect x="1132.4" y="949.6" width="186.0" height="223.6" fill="#fff" stroke="#000" stroke-width="3.4" stroke-linejoin="round"/>
<circle cx="1162.4" cy="981.2" r="9.0" fill="#000000" fill-opacity="0.5"/>
<text x="1201.5" y="988.2" font-size="18.8" text-anchor="start" stroke="#000" stroke-width="0.25">Primary</text>
<circle cx="1162.4" cy="1035.2" r="9.0" fill="#AF8BC3" fill-opacity="0.5"/>
<text x="1201.5" y="1042.2" font-size="18.8" text-anchor="start" stroke="#000" stroke-width="0.25">Metastatic</text>
<circle cx="1162.4" cy="1089.1" r="9.0" fill="#D3B161" fill-opacity="0.5"/>
<text x="1201.5" y="1096.1" font-size="18.8" text-anchor="start" stroke="#000" stroke-width="0.25">Recurrent</text>
<circle cx="1162.4" cy="1143.1" r="9.0" fill="#C8001A" fill-opacity="0.5"/>
<text x="1201.5" y="1150.1" font-size="18.8" text-anchor="start" stroke="#000" stroke-width="0.25">Cell line</text>
<g clip-path="url(#clipf)">
<circle cx="1443.8" cy="737.8" r="9.0" fill="#AF8BC3" fill-opacity="0.5"/>
<circle cx="1427.3" cy="1076.6" r="9.0" fill="#000000" fill-opacity="0.5"/>
<circle cx="1443.9" cy="1075.3" r="9.0" fill="#000000" fill-opacity="0.5"/>
<circle cx="1427.3" cy="1091.9" r="9.0" fill="#000000" fill-opacity="0.5"/>
<circle cx="1444.5" cy="1091.9" r="9.0" fill="#000000" fill-opacity="0.5"/>
<circle cx="1430.6" cy="1083.9" r="9.0" fill="#000000" fill-opacity="0.5"/>
<circle cx="1432.0" cy="1084.5" r="9.0" fill="#000000" fill-opacity="0.5"/>
<circle cx="1429.0" cy="1083.0" r="9.0" fill="#000000" fill-opacity="0.5"/>
<circle cx="1423.2" cy="1248.7" r="9.0" fill="#000000" fill-opacity="0.5"/>
<circle cx="1431.9" cy="1246.3" r="9.0" fill="#000000" fill-opacity="0.5"/>
<circle cx="1447.2" cy="1248.2" r="9.0" fill="#000000" fill-opacity="0.5"/>
<circle cx="1457.8" cy="1250.1" r="9.0" fill="#000000" fill-opacity="0.5"/>
<circle cx="1471.2" cy="1251.6" r="9.0" fill="#000000" fill-opacity="0.5"/>
<circle cx="1428.0" cy="1252.0" r="9.0" fill="#000000" fill-opacity="0.5"/>
<circle cx="1436.0" cy="1250.0" r="9.0" fill="#000000" fill-opacity="0.5"/>
<circle cx="1441.0" cy="1253.0" r="9.0" fill="#000000" fill-opacity="0.5"/>
<circle cx="1433.0" cy="1258.0" r="9.0" fill="#000000" fill-opacity="0.5"/>
<circle cx="1426.0" cy="1262.0" r="9.0" fill="#000000" fill-opacity="0.5"/>
<circle cx="1440.0" cy="1260.0" r="9.0" fill="#000000" fill-opacity="0.5"/>
<circle cx="1448.0" cy="1257.0" r="9.0" fill="#000000" fill-opacity="0.5"/>
<circle cx="1452.0" cy="1262.0" r="9.0" fill="#000000" fill-opacity="0.5"/>
<circle cx="1422.0" cy="1270.0" r="9.0" fill="#000000" fill-opacity="0.5"/>
<circle cx="1429.0" cy="1266.0" r="9.0" fill="#000000" fill-opacity="0.5"/>
<circle cx="1437.0" cy="1264.0" r="9.0" fill="#000000" fill-opacity="0.5"/>
<circle cx="1456.0" cy="1266.0" r="9.0" fill="#000000" fill-opacity="0.5"/>
<circle cx="1424.0" cy="1279.0" r="9.0" fill="#000000" fill-opacity="0.5"/>
<circle cx="1431.0" cy="1276.0" r="9.0" fill="#000000" fill-opacity="0.5"/>
<circle cx="1420.0" cy="1282.0" r="9.0" fill="#000000" fill-opacity="0.5"/>
<circle cx="1434.0" cy="1282.0" r="9.0" fill="#000000" fill-opacity="0.5"/>
<circle cx="1428.0" cy="1285.0" r="9.0" fill="#000000" fill-opacity="0.5"/>
<circle cx="1438.0" cy="1254.0" r="9.0" fill="#000000" fill-opacity="0.5"/>
<circle cx="1444.0" cy="1252.0" r="9.0" fill="#000000" fill-opacity="0.5"/>
<circle cx="1430.0" cy="1269.8" r="9.0" fill="#AF8BC3" fill-opacity="0.5"/>
<circle cx="1453.0" cy="1268.4" r="9.0" fill="#AF8BC3" fill-opacity="0.5"/>
<circle cx="1440.0" cy="1266.0" r="9.0" fill="#AF8BC3" fill-opacity="0.5"/>
<circle cx="1443.4" cy="1272.0" r="9.0" fill="#AF8BC3" fill-opacity="0.5"/>
<circle cx="1445.8" cy="1280.4" r="9.0" fill="#D3B161" fill-opacity="0.5"/>
<circle cx="1450.6" cy="1282.8" r="9.0" fill="#000000" fill-opacity="0.5"/>
<circle cx="1465.9" cy="1271.7" r="9.0" fill="#000000" fill-opacity="0.5"/>
<circle cx="1467.4" cy="1279.9" r="9.0" fill="#000000" fill-opacity="0.5"/>
<circle cx="1467.4" cy="1281.5" r="9.0" fill="#000000" fill-opacity="0.5"/>
<circle cx="1478.9" cy="1267.4" r="9.0" fill="#000000" fill-opacity="0.5"/>
<circle cx="1520.4" cy="1249.0" r="9.0" fill="#000000" fill-opacity="0.5"/>
<circle cx="1534.6" cy="1249.0" r="9.0" fill="#000000" fill-opacity="0.5"/>
<circle cx="1573.1" cy="1253.7" r="9.0" fill="#C8001A" fill-opacity="0.5"/>
<circle cx="1631.4" cy="1257.0" r="9.0" fill="#000000" fill-opacity="0.5"/>
<circle cx="1644.0" cy="1257.4" r="9.0" fill="#000000" fill-opacity="0.5"/>
<circle cx="1491.0" cy="1262.4" r="9.0" fill="#000000" fill-opacity="0.5"/>
<circle cx="1497.5" cy="1263.5" r="9.0" fill="#000000" fill-opacity="0.5"/>
<circle cx="1503.0" cy="1267.9" r="9.0" fill="#000000" fill-opacity="0.5"/>
<circle cx="1546.5" cy="1265.7" r="9.0" fill="#000000" fill-opacity="0.5"/>
<circle cx="1568.3" cy="1278.8" r="9.0" fill="#000000" fill-opacity="0.5"/>
<circle cx="1941.0" cy="1271.7" r="9.0" fill="#000000" fill-opacity="0.5"/>
</g>
<path d="M1393.9 716.8 V1290.8 M1393.9 1290.8 H1967.6" fill="none" stroke="#000" stroke-width="3.4" stroke-linecap="butt"/>
<line x1="1387.5" y1="1264.8" x2="1393.9" y2="1264.8" stroke="#333" stroke-width="2.3"/>
<text x="1382.3" y="1274.4" font-size="25" text-anchor="end" stroke="#000" stroke-width="0.35">0</text>
<line x1="1387.5" y1="1090.7" x2="1393.9" y2="1090.7" stroke="#333" stroke-width="2.3"/>
<text x="1382.3" y="1100.3" font-size="25" text-anchor="end" stroke="#000" stroke-width="0.35">1</text>
<line x1="1387.5" y1="916.6" x2="1393.9" y2="916.6" stroke="#333" stroke-width="2.3"/>
<text x="1382.3" y="926.2" font-size="25" text-anchor="end" stroke="#000" stroke-width="0.35">2</text>
<line x1="1387.5" y1="742.5" x2="1393.9" y2="742.5" stroke="#333" stroke-width="2.3"/>
<text x="1382.3" y="752.1" font-size="25" text-anchor="end" stroke="#000" stroke-width="0.35">3</text>
<line x1="1419.6" y1="1290.8" x2="1419.6" y2="1297.2" stroke="#333" stroke-width="2.3"/>
<text x="1419.6" y="1320.1" font-size="25" text-anchor="middle" stroke="#000" stroke-width="0.35">0</text>
<line x1="1550.0" y1="1290.8" x2="1550.0" y2="1297.2" stroke="#333" stroke-width="2.3"/>
<text x="1550.0" y="1320.1" font-size="25" text-anchor="middle" stroke="#000" stroke-width="0.35">20</text>
<line x1="1680.4" y1="1290.8" x2="1680.4" y2="1297.2" stroke="#333" stroke-width="2.3"/>
<text x="1680.4" y="1320.1" font-size="25" text-anchor="middle" stroke="#000" stroke-width="0.35">40</text>
<line x1="1810.9" y1="1290.8" x2="1810.9" y2="1297.2" stroke="#333" stroke-width="2.3"/>
<text x="1810.9" y="1320.1" font-size="25" text-anchor="middle" stroke="#000" stroke-width="0.35">60</text>
<line x1="1941.3" y1="1290.8" x2="1941.3" y2="1297.2" stroke="#333" stroke-width="2.3"/>
<text x="1941.3" y="1320.1" font-size="25" text-anchor="middle" stroke="#000" stroke-width="0.35">80</text>
<text x="1680.8" y="1349.4" font-size="25" text-anchor="middle" stroke="#000" stroke-width="0.35">mean #fusions per cycle</text>
<text transform="translate(1357.2,1003.8) rotate(-90)" font-size="25" text-anchor="middle" stroke="#000" stroke-width="0.35">known #BFBs</text>
<text x="1657.4" y="790.3" font-size="34.8" stroke="#000" stroke-width="0.35"><tspan font-style="italic">R</tspan><tspan dx="6.0" dy="2.6">=</tspan><tspan dx="8.1">−</tspan><tspan dx="3.6" dy="-2.6">0.17,</tspan><tspan dx="9.7" font-style="italic">p</tspan><tspan dx="6.0" dy="2.6">=</tspan><tspan dx="8.1" dy="-2.6">0.13</tspan></text>
<rect x="1788.8" y="949.6" width="186.0" height="223.6" fill="#fff" stroke="#000" stroke-width="3.4" stroke-linejoin="round"/>
<circle cx="1818.8" cy="981.2" r="9.0" fill="#000000" fill-opacity="0.5"/>
<text x="1857.9" y="988.2" font-size="18.8" text-anchor="start" stroke="#000" stroke-width="0.25">Primary</text>
<circle cx="1818.8" cy="1035.2" r="9.0" fill="#AF8BC3" fill-opacity="0.5"/>
<text x="1857.9" y="1042.2" font-size="18.8" text-anchor="start" stroke="#000" stroke-width="0.25">Metastatic</text>
<circle cx="1818.8" cy="1089.1" r="9.0" fill="#D3B161" fill-opacity="0.5"/>
<text x="1857.9" y="1096.1" font-size="18.8" text-anchor="start" stroke="#000" stroke-width="0.25">Recurrent</text>
<circle cx="1818.8" cy="1143.1" r="9.0" fill="#C8001A" fill-opacity="0.5"/>
<text x="1857.9" y="1150.1" font-size="18.8" text-anchor="start" stroke="#000" stroke-width="0.25">Cell line</text>
<text x="3.0" y="40.0" font-size="55" text-anchor="start" font-weight="bold" fill="#231f20">a</text>
<text x="649.0" y="40.0" font-size="55" text-anchor="start" font-weight="bold" fill="#231f20">b</text>
<text x="1304.2" y="40.0" font-size="55" text-anchor="start" font-weight="bold" fill="#231f20">c</text>
<text x="3.5" y="745.0" font-size="55" text-anchor="start" font-weight="bold" fill="#231f20">d</text>
<text x="648.5" y="745.0" font-size="55" text-anchor="start" font-weight="bold" fill="#231f20">e</text>
<text x="1303.0" y="745.0" font-size="55" text-anchor="start" font-weight="bold" fill="#231f20">f</text>
</svg></body></html>
